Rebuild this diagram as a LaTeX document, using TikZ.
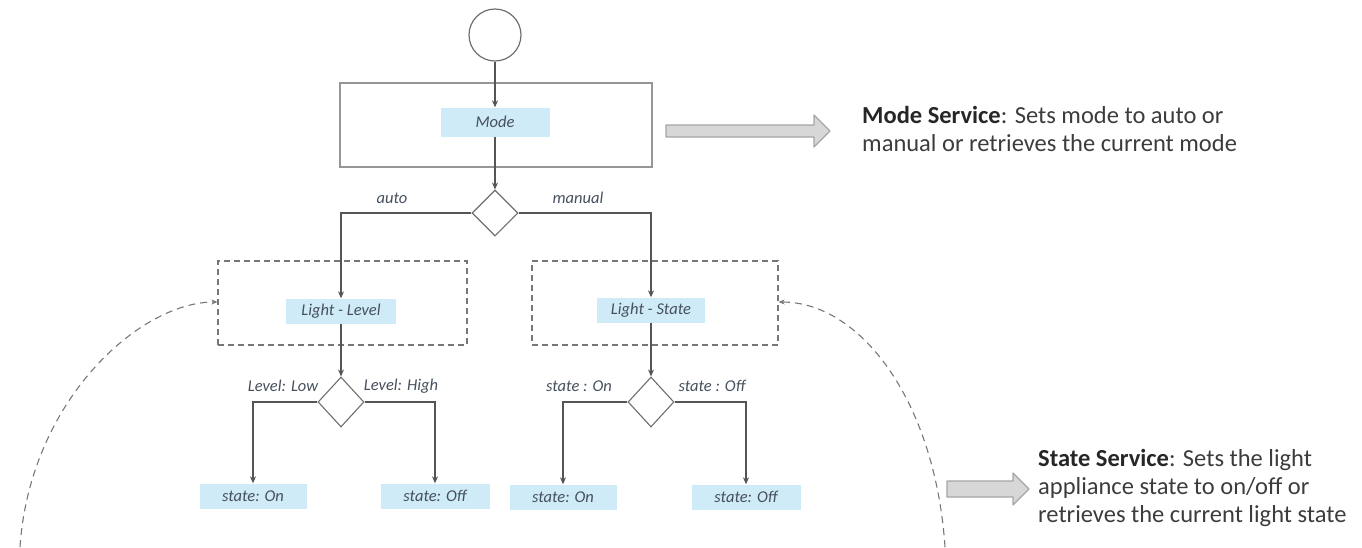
\documentclass[tikz,border=0pt]{standalone}
\usepackage{fontspec}
\setmainfont{Carlito}
\usetikzlibrary{arrows.meta,shapes.geometric}
\definecolor{lblfill}{RGB}{206,235,247}
\definecolor{linegray}{RGB}{85,85,85}
\definecolor{boxgray}{RGB}{150,150,150}
\definecolor{lbltext}{RGB}{70,80,92}
\definecolor{notetext}{RGB}{60,60,60}
\definecolor{blockfill}{RGB}{215,215,215}
\definecolor{blockline}{RGB}{165,165,165}

\begin{document}
\begin{tikzpicture}[x=1pt,y=-1pt,
  flow/.style={draw=linegray, line width=1.1pt, -{Stealth[length=7pt,width=6pt]}},
  act/.style={fill=lblfill, text=lbltext, font=\fontsize{16.5}{18}\selectfont\itshape,
    minimum height=25pt, inner sep=0pt},
  decision/.style={diamond, draw=linegray!85, line width=1.1pt, minimum width=46pt,
    minimum height=50pt, inner sep=0pt},
  guard/.style={font=\fontsize{16.5}{18}\selectfont\itshape, text=lbltext, inner sep=0pt},
  group/.style={draw=linegray!80, line width=1.1pt, dash pattern=on 6pt off 4pt},
  loop/.style={draw=linegray!80, line width=1.1pt, dash pattern=on 7pt off 5pt,
    -{Stealth[length=6pt,width=5pt]}},
  block/.style={draw=blockline, fill=blockfill, line width=1.2pt, line join=round},
  note/.style={anchor=north west, align=left, text=notetext, inner sep=0pt,
    font=\fontsize{24.5}{28}\selectfont},
]
\useasboundingbox (0,0) rectangle (1362,547);

% initial state and the Mode service
\node[circle, draw=linegray!85, line width=1.2pt, minimum size=52pt, inner sep=0pt] (start) at (495,35) {};
\node[draw=boxgray, line width=1.3pt, minimum width=312pt, minimum height=84pt, inner sep=0pt] (modebox) at (496,125) {};
\node[act, minimum width=109pt, minimum height=29pt] (mode) at (495,122) {Mode};
\node[decision, minimum height=46pt] (d1) at (495,213) {};
\node[guard] at (392,198) {auto};
\node[guard] at (578,198) {manual};

% the two sub-services (dashed groups)
\node[group, minimum width=249pt, minimum height=84pt, inner sep=0pt] (lvlgroup) at (342.5,303) {};
\node[group, minimum width=246pt, minimum height=84pt, inner sep=0pt] (stgroup) at (655,303) {};
\node[act, minimum width=110pt] (level) at (341,311) {Light - Level};
\node[act, minimum width=108pt] (lstate) at (651,310) {Light - State};

\node[decision] (d2) at (341,402) {};
\node[decision] (d3) at (651,402) {};
\node[guard] at (283,386) {Level: Low};
\node[guard] at (401,386) {Level: High};
\node[guard] at (579,386) {state : On};
\node[guard] at (712,386) {state : Off};

% resulting states
\node[act, minimum width=107pt] (on1) at (253,496) {state: On};
\node[act, minimum width=109pt] (off1) at (435,496) {state: Off};
\node[act, minimum width=107pt] (on2) at (563,497) {state: On};
\node[act, minimum width=109pt] (off2) at (746,497) {state: Off};

% control flow
\draw[flow] (start) -- (mode);
\draw[flow] (mode) -- (d1);
\draw[flow] (d1.west) -| (level.north);
\draw[flow] (d1.east) -| (lstate.north);
\draw[flow] (level) -- (d2);
\draw[flow] (lstate) -- (d3);
\draw[flow] (d2.west) -| (on1.north);
\draw[flow] (d2.east) -| (off1.north);
\draw[flow] (d3.west) -| (on2.north);
\draw[flow] (d3.east) -| (off2.north);

% loops back into the groups
\coordinate (loopL) at (20,547);
\coordinate (loopR) at (945,547);
\draw[loop] (loopL) .. controls (30,400) and (140,302) .. (lvlgroup.west |- 0,302);
\draw[loop] (loopR) .. controls (935,400) and (860,302) .. (stgroup.east |- 0,302);

% service descriptions
\draw[block] (666,125) -- (814,125) -- (814,115) -- (830,131) -- (814,147) -- (814,137) -- (666,137) -- cycle;
\node[note] (modenote) at (862,106) {\textbf{\color{black!85}Mode Service}: Sets mode to auto or\\manual or retrieves the current mode};

\draw[block] (947,481) -- (1013,481) -- (1013,473) -- (1029,489) -- (1013,505) -- (1013,497) -- (947,497) -- cycle;
\node[note] (statenote) at (1038,449) {\textbf{\color{black!85}State Service}: Sets the light\\appliance state to on/off or\\retrieves the current light state};
\end{tikzpicture}
\end{document}
